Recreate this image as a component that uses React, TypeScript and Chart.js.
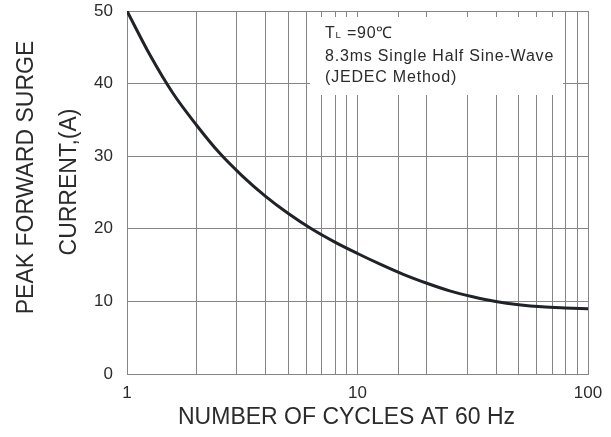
import React, { useEffect, useRef } from "react";
import { Chart, registerables } from "chart.js";

Chart.register(...registerables);

const cycles = [1, 1.26, 1.58, 2, 2.51, 3.16, 3.98, 5.01, 6.31, 7.94, 10, 12.6, 15.8, 20, 25.1, 31.6, 39.8, 50.1, 63.1, 79.4, 100];
const surgeCurrent = [50, 43.9, 38.7, 34.3, 30.5, 27.3, 24.5, 22.1, 20.0, 18.2, 16.6, 15.1, 13.73, 12.5, 11.45, 10.65, 10.0, 9.55, 9.25, 9.1, 9.0];
const yTitleLines = ["PEAK FORWARD SURGE", "CURRENT,(A)"];
const xTitle = "NUMBER OF CYCLES AT 60 Hz";
const noteLine1 = ["T", "L", " =90℃"];
const noteLine2 = "8.3ms Single Half Sine-Wave";
const noteLine3 = "(JEDEC Method)";

const FONT = "'Liberation Sans', Arial, Helvetica, sans-serif";
const GRID = "#858585";
const TEXT = "#2b2b2b";

const annotations = {
  id: "annotations",
  beforeDatasetsDraw(chart: any) {
    const { ctx, chartArea } = chart;
    const l = chartArea.left;
    const t = chartArea.top;
    ctx.save();
    ctx.fillStyle = "#ffffff";
    ctx.fillRect(l + 183, t + 6, 253, 78);
    ctx.fillStyle = TEXT;
    ctx.textAlign = "left";
    ctx.textBaseline = "alphabetic";
    (ctx as any).letterSpacing = "0.8px";
    ctx.font = `16px ${FONT}`;
    let x = l + 198;
    const b1 = t + 27.3;
    ctx.fillText(noteLine1[0], x, b1);
    x += ctx.measureText(noteLine1[0]).width;
    ctx.font = `9.5px ${FONT}`;
    ctx.fillText(noteLine1[1], x, b1);
    x += ctx.measureText(noteLine1[1]).width;
    ctx.font = `16px ${FONT}`;
    ctx.fillText(noteLine1[2], x, b1);
    ctx.fillText(noteLine2, l + 198, t + 49.7);
    ctx.fillText(noteLine3, l + 198, t + 71.3);
    ctx.restore();
  },
  afterDraw(chart: any) {
    const { ctx, chartArea } = chart;
    const cy = (chartArea.top + chartArea.bottom) / 2;
    const cx = (chartArea.left + chartArea.right) / 2;
    ctx.save();
    ctx.fillStyle = TEXT;
    ctx.font = `23px ${FONT}`;
    ctx.textAlign = "center";
    ctx.textBaseline = "alphabetic";
    const drawRot = (text: string, bx: number, by: number) => {
      ctx.save();
      ctx.translate(bx, by);
      ctx.rotate(-Math.PI / 2);
      ctx.fillText(text, 0, 0);
      ctx.restore();
    };
    drawRot(yTitleLines[0], 33.3, cy - 15);
    drawRot(yTitleLines[1], 75.5, cy - 10.5);
    ctx.fillText(xTitle, cx - 11, 424);
    ctx.restore();
  },
};

export default function App() {
  const ref = useRef<HTMLCanvasElement | null>(null);
  useEffect(() => {
    if (!ref.current) return;
    const chart = new Chart(ref.current, {
      type: "line",
      data: {
        datasets: [
          {
            data: cycles.map((c, i) => ({ x: c, y: surgeCurrent[i] })),
            borderColor: "#1f2227",
            borderWidth: 3,
            pointRadius: 0,
            fill: false,
            cubicInterpolationMode: "monotone",
          },
        ],
      },
      options: {
        animation: false,
        responsive: false,
        devicePixelRatio: 1,
        layout: { padding: { top: 11, right: 23, left: 0, bottom: 0 } },
        plugins: {
          legend: { display: false },
          tooltip: { enabled: false },
        },
        scales: {
          x: {
            type: "logarithmic",
            min: 1,
            max: 100,
            grid: { color: GRID, lineWidth: 1, drawTicks: false },
            border: { color: GRID, width: 1 },
            ticks: {
              autoSkip: false,
              maxRotation: 0,
              padding: 9,
              color: TEXT,
              font: { family: FONT, size: 17 },
              callback: (v: any) => {
                const n = Number(v);
                const lg = Math.log10(n);
                return Math.abs(lg - Math.round(lg)) < 1e-9 ? String(n) : "";
              },
            },
            afterFit: (s: any) => {
              s.height = 63;
              s.paddingLeft = 0;
              s.paddingRight = 0;
            },
          },
          y: {
            type: "linear",
            min: 0,
            max: 50,
            grid: { color: GRID, lineWidth: 1, drawTicks: false },
            border: { color: GRID, width: 1 },
            ticks: {
              stepSize: 10,
              padding: 14,
              color: TEXT,
              font: { family: FONT, size: 17 },
            },
            afterFit: (s: any) => {
              s.width = 127;
              s.paddingTop = 0;
              s.paddingBottom = 0;
            },
          },
        },
      },
      plugins: [annotations],
    });
    return () => chart.destroy();
  }, []);
  return (
    <div style={{ position: "fixed", left: 0, top: 0, width: 611, height: 437, background: "#fff" }}>
      <canvas ref={ref} width={611} height={437} style={{ display: "block" }} />
    </div>
  );
}
